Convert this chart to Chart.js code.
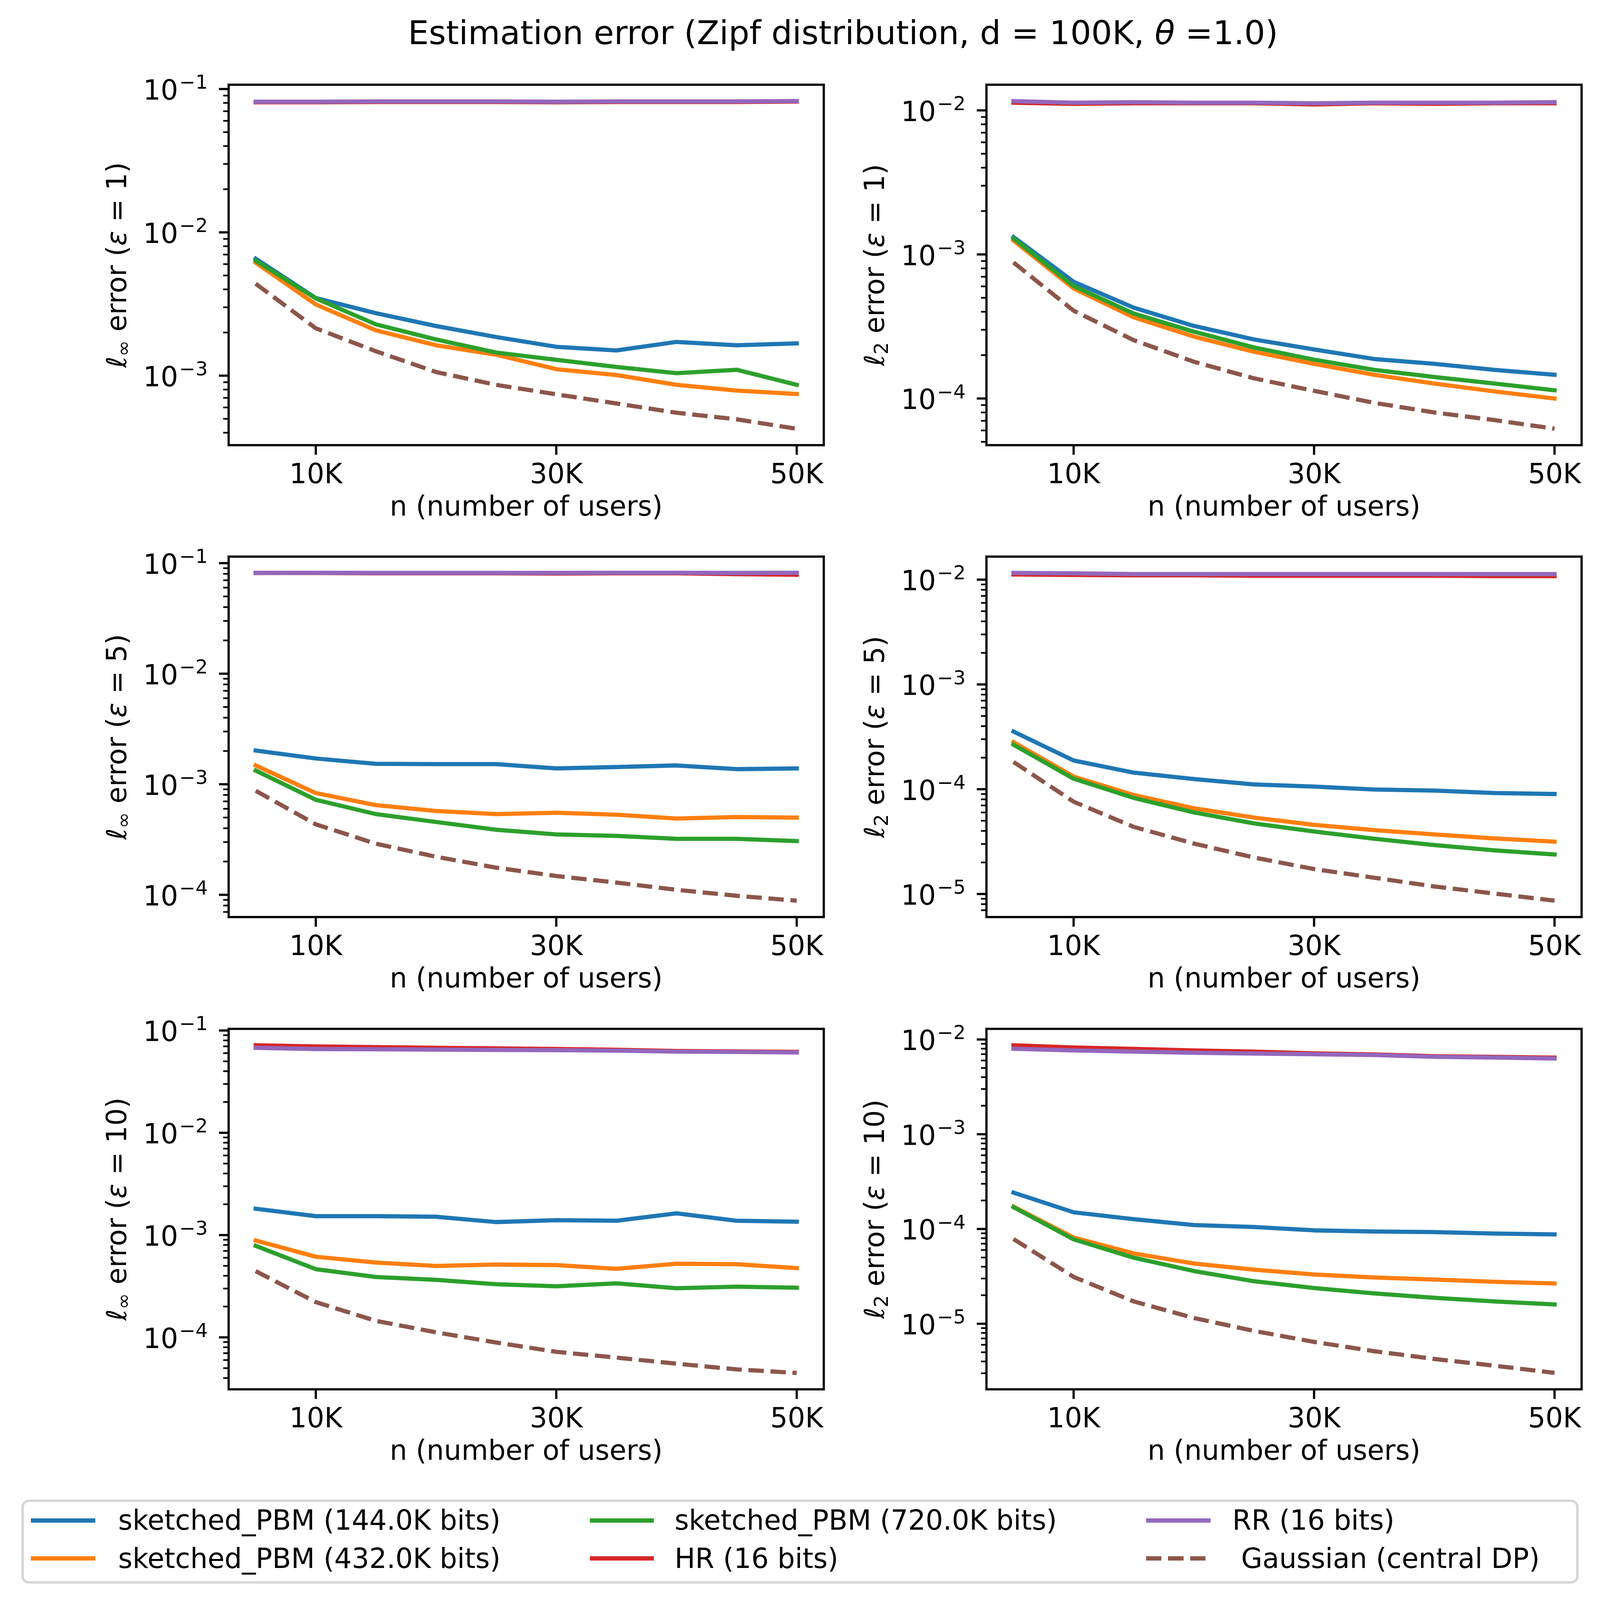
<!DOCTYPE html>
<html>
<head>
<meta charset="utf-8">
<script src="https://cdn.jsdelivr.net/npm/chart.js@4.4.1/dist/chart.umd.min.js"></script>
<style>
  html, body { margin: 0; padding: 0; background: #fff; overflow: hidden; }
  body { position: relative; font-family: "DejaVu Sans", sans-serif; color: #000; }
  canvas, .abs { position: absolute; }
  .nowrap { white-space: pre; }
</style>
</head>
<body>
<script>
// x values (number of users) and axis ticks
const nUsers = [5000, 10000, 15000, 20000, 25000, 30000, 35000, 40000, 45000, 50000];
const xTicks = [10000, 30000, 50000];
const xTickLabels = ["10K", "30K", "50K"];

const seriesNames = [
  "sketched_PBM (144.0K bits)",
  "sketched_PBM (432.0K bits)",
  "sketched_PBM (720.0K bits)",
  "HR (16 bits)",
  "RR (16 bits)",
  " Gaussian (central DP)"
];
const seriesColors = ["#1f77b4", "#ff7f0e", "#2ca02c", "#d62728", "#9467bd", "#8c564b"];

// l_inf error, eps = 1
const linf1_pbm144 = [6.55e-3, 3.48e-3, 2.73e-3, 2.22e-3, 1.86e-3, 1.59e-3, 1.50e-3, 1.72e-3, 1.63e-3, 1.68e-3];
const linf1_pbm432 = [6.14e-3, 3.14e-3, 2.07e-3, 1.63e-3, 1.40e-3, 1.11e-3, 1.01e-3, 8.63e-4, 7.87e-4, 7.45e-4];
const linf1_pbm720 = [6.34e-3, 3.46e-3, 2.28e-3, 1.79e-3, 1.45e-3, 1.29e-3, 1.15e-3, 1.04e-3, 1.10e-3, 8.63e-4];
const linf1_hr     = [0.0808, 0.0808, 0.0812, 0.0812, 0.0812, 0.0808, 0.0812, 0.0812, 0.0812, 0.0818];
const linf1_rr     = [0.0815, 0.0815, 0.0820, 0.0820, 0.0820, 0.0815, 0.0820, 0.0820, 0.0820, 0.0825];
const linf1_gauss  = [4.38e-3, 2.14e-3, 1.48e-3, 1.06e-3, 8.63e-4, 7.41e-4, 6.40e-4, 5.51e-4, 4.96e-4, 4.26e-4];

// l_2 error, eps = 1
const l2_1_pbm144 = [1.32e-3, 6.46e-4, 4.27e-4, 3.19e-4, 2.57e-4, 2.19e-4, 1.88e-4, 1.74e-4, 1.58e-4, 1.46e-4];
const l2_1_pbm432 = [1.25e-3, 5.81e-4, 3.66e-4, 2.69e-4, 2.11e-4, 1.74e-4, 1.46e-4, 1.27e-4, 1.12e-4, 1.00e-4];
const l2_1_pbm720 = [1.29e-3, 6.03e-4, 3.89e-4, 2.91e-4, 2.26e-4, 1.86e-4, 1.58e-4, 1.41e-4, 1.27e-4, 1.14e-4];
const l2_1_hr     = [0.0113, 0.0111, 0.0112, 0.0112, 0.0112, 0.0110, 0.0112, 0.0111, 0.0112, 0.0112];
const l2_1_rr     = [0.0116, 0.0113, 0.0114, 0.0113, 0.0113, 0.0112, 0.0113, 0.0113, 0.0113, 0.0114];
const l2_1_gauss  = [8.79e-4, 4.07e-4, 2.54e-4, 1.80e-4, 1.38e-4, 1.13e-4, 9.33e-5, 8.00e-5, 7.08e-5, 6.17e-5];

// l_inf error, eps = 5
const linf5_pbm144 = [2.02e-3, 1.71e-3, 1.53e-3, 1.52e-3, 1.52e-3, 1.39e-3, 1.43e-3, 1.48e-3, 1.37e-3, 1.39e-3];
const linf5_pbm432 = [1.48e-3, 8.32e-4, 6.47e-4, 5.73e-4, 5.37e-4, 5.53e-4, 5.30e-4, 4.90e-4, 5.05e-4, 4.99e-4];
const linf5_pbm720 = [1.33e-3, 7.24e-4, 5.37e-4, 4.56e-4, 3.88e-4, 3.52e-4, 3.41e-4, 3.21e-4, 3.21e-4, 3.06e-4];
const linf5_hr     = [0.0815, 0.0815, 0.0810, 0.0810, 0.0810, 0.0805, 0.0810, 0.0810, 0.0795, 0.0786];
const linf5_rr     = [0.0815, 0.0818, 0.0815, 0.0815, 0.0815, 0.0815, 0.0818, 0.0818, 0.0815, 0.0818];
const linf5_gauss  = [8.73e-4, 4.34e-4, 2.90e-4, 2.21e-4, 1.76e-4, 1.48e-4, 1.29e-4, 1.11e-4, 9.80e-5, 8.85e-5];

// l_2 error, eps = 5
const l2_5_pbm144 = [3.55e-4, 1.88e-4, 1.44e-4, 1.25e-4, 1.11e-4, 1.06e-4, 9.94e-5, 9.70e-5, 9.20e-5, 9.00e-5];
const l2_5_pbm432 = [2.81e-4, 1.32e-4, 8.80e-5, 6.58e-5, 5.36e-5, 4.57e-5, 4.07e-5, 3.70e-5, 3.39e-5, 3.16e-5];
const l2_5_pbm720 = [2.66e-4, 1.26e-4, 8.26e-5, 6.01e-5, 4.72e-5, 3.95e-5, 3.37e-5, 2.93e-5, 2.61e-5, 2.38e-5];
const l2_5_hr     = [0.0112, 0.0111, 0.0110, 0.0110, 0.0109, 0.0109, 0.0109, 0.0109, 0.0108, 0.0108];
const l2_5_rr     = [0.0116, 0.0115, 0.0113, 0.0113, 0.0113, 0.0113, 0.0113, 0.0113, 0.0113, 0.0113];
const l2_5_gauss  = [1.82e-4, 7.60e-5, 4.37e-5, 3.03e-5, 2.23e-5, 1.73e-5, 1.43e-5, 1.18e-5, 1.01e-5, 8.64e-6];

// l_inf error, eps = 10
const linf10_pbm144 = [1.81e-3, 1.53e-3, 1.53e-3, 1.51e-3, 1.34e-3, 1.40e-3, 1.38e-3, 1.63e-3, 1.38e-3, 1.35e-3];
const linf10_pbm432 = [8.84e-4, 6.14e-4, 5.39e-4, 4.99e-4, 5.15e-4, 5.09e-4, 4.68e-4, 5.25e-4, 5.19e-4, 4.76e-4];
const linf10_pbm720 = [7.85e-4, 4.64e-4, 3.89e-4, 3.65e-4, 3.31e-4, 3.16e-4, 3.37e-4, 3.02e-4, 3.13e-4, 3.06e-4];
const linf10_hr     = [0.0717, 0.0699, 0.0688, 0.0677, 0.0668, 0.0659, 0.0648, 0.0630, 0.0625, 0.0618];
const linf10_rr     = [0.0677, 0.0659, 0.0655, 0.0650, 0.0646, 0.0642, 0.0635, 0.0622, 0.0618, 0.0610];
const linf10_gauss  = [4.44e-4, 2.21e-4, 1.45e-4, 1.12e-4, 8.90e-5, 7.22e-5, 6.34e-5, 5.53e-5, 4.86e-5, 4.49e-5];

// l_2 error, eps = 10
const l2_10_pbm144 = [2.42e-4, 1.50e-4, 1.27e-4, 1.10e-4, 1.05e-4, 9.67e-5, 9.40e-5, 9.28e-5, 8.96e-5, 8.77e-5];
const l2_10_pbm432 = [1.72e-4, 8.12e-5, 5.52e-5, 4.32e-5, 3.72e-5, 3.31e-5, 3.08e-5, 2.93e-5, 2.77e-5, 2.66e-5];
const l2_10_pbm720 = [1.70e-4, 7.78e-5, 4.97e-5, 3.60e-5, 2.81e-5, 2.38e-5, 2.09e-5, 1.88e-5, 1.72e-5, 1.60e-5];
const l2_10_hr     = [8.69e-3, 8.22e-3, 7.95e-3, 7.66e-3, 7.45e-3, 7.14e-3, 6.95e-3, 6.66e-3, 6.55e-3, 6.43e-3];
const l2_10_rr     = [7.98e-3, 7.66e-3, 7.45e-3, 7.24e-3, 7.10e-3, 6.99e-3, 6.85e-3, 6.56e-3, 6.45e-3, 6.30e-3];
const l2_10_gauss  = [7.83e-5, 3.12e-5, 1.72e-5, 1.15e-5, 8.40e-6, 6.43e-6, 5.13e-6, 4.25e-6, 3.61e-6, 3.03e-6];

// panel layout in figure pixels (5984 x 6983) and log10 axis limits
const FIG_W = 5984, FIG_H = 6983;
const PW = 2226, PH = 1590;
const panels = [
  { left: 855,  top: 370,  sub: "∞", eps: "1",  yExp: [-3.485, -0.970],
    series: [linf1_pbm144, linf1_pbm432, linf1_pbm720, linf1_hr, linf1_rr, linf1_gauss] },
  { left: 3690, top: 370,  sub: "2", eps: "1",  yExp: [-4.324, -1.822],
    series: [l2_1_pbm144, l2_1_pbm432, l2_1_pbm720, l2_1_hr, l2_1_rr, l2_1_gauss] },
  { left: 855,  top: 2430, sub: "∞", eps: "5",  yExp: [-4.201, -0.941],
    series: [linf5_pbm144, linf5_pbm432, linf5_pbm720, linf5_hr, linf5_rr, linf5_gauss] },
  { left: 3690, top: 2430, sub: "2", eps: "5",  yExp: [-5.220, -1.780],
    series: [l2_5_pbm144, l2_5_pbm432, l2_5_pbm720, l2_5_hr, l2_5_rr, l2_5_gauss] },
  { left: 855,  top: 4490, sub: "∞", eps: "10", yExp: [-4.508, -0.984],
    series: [linf10_pbm144, linf10_pbm432, linf10_pbm720, linf10_hr, linf10_rr, linf10_gauss] },
  { left: 3690, top: 4490, sub: "2", eps: "10", yExp: [-5.692, -1.888],
    series: [l2_10_pbm144, l2_10_pbm432, l2_10_pbm720, l2_10_hr, l2_10_rr, l2_10_gauss] }
];

// map figure pixels onto the actual window (1:1 when the window is 5984 x 6983)
const VW = window.innerWidth || FIG_W, VH = window.innerHeight || FIG_H;
const sx = VW / FIG_W, sy = VH / FIG_H, sf = Math.sqrt(sx * sy);
const X = v => v * sx, Y = v => v * sy, F = v => v * sf;
document.body.style.width = VW + "px";
document.body.style.height = VH + "px";

const FONT = '"DejaVu Sans"';
Chart.defaults.font.family = "DejaVu Sans";

function isPow10(v) {
  const l = Math.log10(v);
  return Math.abs(l - Math.round(l)) < 1e-9;
}
function logTicks(min, max) {
  const out = [];
  for (let e = Math.floor(Math.log10(min)); e <= Math.ceil(Math.log10(max)); e++) {
    for (let k = 1; k <= 9; k++) {
      const v = Number((k * Math.pow(10, e)).toPrecision(6));
      if (v >= min * 0.999999 && v <= max * 1.000001) out.push({ value: v, major: k === 1 });
    }
  }
  return out;
}

// frame, tick marks, 10^k labels and axis titles, matplotlib style
const framePlugin = {
  id: "frame",
  afterDatasetsDraw(chart, args, opts) {
    const { ctx, chartArea: a } = chart;
    const xs = chart.scales.x, ys = chart.scales.y;
    ctx.save();
    ctx.strokeStyle = "#000";
    ctx.fillStyle = "#000";
    ctx.lineCap = "butt";
    ctx.lineWidth = F(9);
    xs.ticks.forEach(t => {
      const px = xs.getPixelForValue(t.value);
      ctx.beginPath(); ctx.moveTo(px, a.bottom); ctx.lineTo(px, a.bottom + F(39)); ctx.stroke();
    });
    ys.ticks.forEach(t => {
      const py = ys.getPixelForValue(t.value);
      const major = isPow10(t.value);
      ctx.lineWidth = major ? F(9) : F(6.7);
      ctx.beginPath(); ctx.moveTo(a.left - (major ? F(39) : F(22)), py); ctx.lineTo(a.left, py); ctx.stroke();
      if (major) {
        // "10" with a raised exponent, like mathtext
        const exp = "\u2212" + String(-Math.round(Math.log10(t.value)));
        ctx.textBaseline = "alphabetic";
        ctx.textAlign = "left";
        ctx.font = F(78) + "px " + FONT;
        const we = ctx.measureText(exp).width;
        ctx.font = F(111) + "px " + FONT;
        const wb = ctx.measureText("10").width;
        const gap = F(5);
        const x0 = a.left - X(78) - we - gap - wb;
        const base = py + F(43);
        ctx.fillText("10", x0, base);
        ctx.font = F(78) + "px " + FONT;
        ctx.fillText(exp, x0 + wb + gap, base - F(44));
      }
    });
    ctx.lineWidth = F(9);
    ctx.strokeRect(a.left, a.top, a.right - a.left, a.bottom - a.top);

    // x title
    ctx.font = F(111) + "px " + FONT;
    ctx.textAlign = "center";
    ctx.textBaseline = "middle";
    ctx.fillText("n (number of users)", (a.left + a.right) / 2, a.bottom + Y(277));

    // y title with subscript
    const parts = [
      { t: "ℓ", f: F(111) + "px " + FONT, dy: 0 },
      { t: opts.sub, f: F(78) + "px " + FONT, dy: F(24) },
      { t: " error (", f: F(111) + "px " + FONT, dy: 0 },
      { t: "ε", f: "italic " + F(111) + "px " + FONT, dy: 0 },
      { t: " = " + opts.eps + ")", f: F(111) + "px " + FONT, dy: 0 }
    ];
    let total = 0;
    parts.forEach(p => { ctx.font = p.f; p.w = ctx.measureText(p.t).width; total += p.w; });
    ctx.translate(a.left - X(410), (a.top + a.bottom) / 2);
    ctx.rotate(-Math.PI / 2);
    ctx.textAlign = "left";
    ctx.textBaseline = "middle";
    let cx = -total / 2;
    parts.forEach(p => { ctx.font = p.f; ctx.fillText(p.t, cx, p.dy); cx += p.w; });
    ctx.restore();
  }
};

const padL = X(560), padT = Y(100), padR = X(120), padB = Y(420);
const xLabelPad = Y(30 + 39 + 66.6) - F(39) - F(66.6);

panels.forEach(p => {
  const W = Math.round(X(PW) + padL + padR), H = Math.round(Y(PH) + padT + padB);
  const cv = document.createElement("canvas");
  cv.width = W; cv.height = H;
  cv.style.width = W + "px"; cv.style.height = H + "px";
  cv.style.left = (X(p.left) - padL) + "px";
  cv.style.top = (Y(p.top) - padT) + "px";
  document.body.appendChild(cv);

  const datasets = p.series.map((vals, i) => ({
    label: seriesNames[i],
    data: nUsers.map((n, j) => ({ x: n, y: vals[j] })),
    borderColor: seriesColors[i],
    borderWidth: F(17),
    borderDash: i === 5 ? [F(62), F(27)] : [],
    borderCapStyle: i === 5 ? "butt" : "square",
    borderJoinStyle: "round",
    pointRadius: 0,
    tension: 0,
    fill: false,
    order: 5 - i
  }));

  const chart = new Chart(cv, {
    type: "line",
    data: { datasets },
    options: {
      responsive: false,
      animation: false,
      devicePixelRatio: 1,
      layout: { padding: { left: 0, top: padT, right: padR, bottom: 0 } },
      plugins: { legend: { display: false }, tooltip: { enabled: false }, frame: { sub: p.sub, eps: p.eps } },
      scales: {
        x: {
          type: "linear", min: 2750, max: 52250, bounds: "data",
          afterBuildTicks: s => { s.ticks = xTicks.map(v => ({ value: v })); },
          afterFit: s => { s.height = padB; },
          grid: { drawOnChartArea: false, drawTicks: true, tickLength: F(39), tickColor: "rgba(0,0,0,0)" },
          border: { display: false },
          ticks: {
            autoSkip: false, maxRotation: 0, padding: xLabelPad, color: "#000", font: { size: F(111) },
            callback: v => { const k = xTicks.indexOf(v); return k >= 0 ? xTickLabels[k] : ""; }
          }
        },
        y: {
          type: "logarithmic", min: Math.pow(10, p.yExp[0]), max: Math.pow(10, p.yExp[1]), bounds: "data",
          afterBuildTicks: s => { s.ticks = logTicks(s.min, s.max); },
          afterFit: s => { s.width = padL; },
          grid: { drawOnChartArea: false, drawTicks: true, tickLength: F(39), tickColor: "rgba(0,0,0,0)" },
          border: { display: false },
          ticks: { autoSkip: false, padding: X(39), font: { size: F(111) }, callback: () => "" }
        }
      }
    },
    plugins: [framePlugin]
  });

  // keep the plot box exactly where the reference has it
  const a = chart.chartArea;
  cv.style.left = (X(p.left) - a.left) + "px";
  cv.style.top = (Y(p.top) - a.top) + "px";
});

// suptitle
const title = document.createElement("div");
title.className = "abs nowrap";
title.innerHTML = "Estimation error (Zipf distribution, d = 100K, <i>θ</i> =1.0)";
title.style.fontSize = F(133) + "px";
title.style.lineHeight = F(133) + "px";
title.style.left = X(3153) + "px";
title.style.top = (Y(143) - F(66.5)) + "px";
title.style.transform = "translateX(-50%)";
document.body.appendChild(title);

// legend box (3 columns, column-major like matplotlib)
const box = document.createElement("div");
box.className = "abs";
Object.assign(box.style, {
  left: X(80) + "px", top: Y(6545) + "px", width: X(5824) + "px", height: Y(367) + "px",
  boxSizing: "border-box", border: F(10) + "px solid #d6d6d6", borderRadius: F(30) + "px", background: "#fff"
});
document.body.appendChild(box);

const lgLineX = [116, 2206, 4287];
const lgTextX = [442, 2523, 4609];
const lgRowY = [6636, 6802];
seriesNames.forEach((name, i) => {
  const col = Math.floor(i / 2), row = i % 2;
  const ln = document.createElement("div");
  ln.className = "abs";
  Object.assign(ln.style, {
    left: X(lgLineX[col]) + "px", top: (Y(lgRowY[row]) - F(8.5)) + "px",
    width: X(240) + "px", height: F(17) + "px",
    background: i === 5
      ? `repeating-linear-gradient(to right, ${seriesColors[i]} 0 ${F(62)}px, transparent ${F(62)}px ${F(89)}px)`
      : seriesColors[i]
  });
  document.body.appendChild(ln);
  const tx = document.createElement("div");
  tx.className = "abs nowrap";
  Object.assign(tx.style, {
    left: X(lgTextX[col]) + "px", top: (Y(lgRowY[row]) - F(66.5)) + "px",
    fontSize: F(111) + "px", lineHeight: F(133) + "px"
  });
  tx.textContent = name;
  document.body.appendChild(tx);
});
</script>
</body>
</html>
